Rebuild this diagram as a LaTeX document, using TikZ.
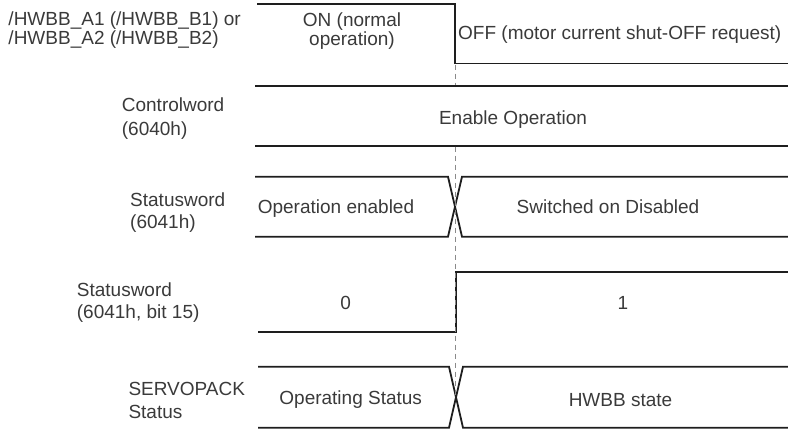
\documentclass[tikz,border=0pt]{standalone}
\usepackage{fontspec}
\setmainfont{Liberation Sans}
\definecolor{wavecol}{HTML}{1E1E1E}
\definecolor{txtcol}{HTML}{3A3A3A}
\definecolor{guidecol}{HTML}{8A8A8A}
\begin{document}
\begin{tikzpicture}[x=1pt,y=-1pt,
  wave/.style={line width=1.8pt, draw=wavecol, line join=miter},
  guide/.style={line width=0.9pt, draw=guidecol, dash pattern=on 5pt off 4pt},
  lbl/.style={inner sep=0pt, text=txtcol, font=\fontsize{19}{23}\selectfont},
]
\useasboundingbox (0,0) rectangle (788,429);

% waveforms
\draw[wave] (257,4.3) -- (455,4.3) -- (455,63.5) -- (788,63.5);
\draw[wave] (255,85.7) -- (788,85.7);
\draw[wave] (255,146) -- (788,146);
\draw[wave] (255,176.7) -- (448,176.7) -- (462,236.7) -- (788,236.7);
\draw[wave] (255,236.7) -- (448,236.7) -- (462,176.7) -- (788,176.7);
\draw[wave] (258,331.7) -- (456,331.7) -- (456,271.7) -- (788,271.7);
\draw[wave] (258,366.7) -- (449,366.7) -- (463,427.7) -- (788,427.7);
\draw[wave] (258,427.7) -- (449,427.7) -- (463,366.7) -- (788,366.7);

% timing guide
\coordinate (g1) at (455.5,64.5);
\coordinate (g2) at (455.5,85);
\coordinate (g3) at (455.5,146.5);
\coordinate (g4) at (455.5,397);
\draw[guide] (g1) -- (g2);
\draw[guide] (g3) -- (g4);

% signal names
\node[lbl, anchor=base west] (hw1) at (8.3,25.5) {/HWBB\_A1 (/HWBB\_B1) or};
\node[lbl, anchor=base west] (hw2) at (8.3,44) {/HWBB\_A2 (/HWBB\_B2)};
\node[lbl, anchor=base west] (cw1) at (121.7,111.7) {Controlword};
\node[lbl, anchor=base west] (cw2) at (121.7,135) {(6040h)};
\node[lbl, anchor=base west] (sw1) at (130,206) {Statusword};
\node[lbl, anchor=base west] (sw2) at (130,228.3) {(6041h)};
\node[lbl, anchor=base west] (sb1) at (76.7,296) {Statusword};
\node[lbl, anchor=base west] (sb2) at (76.7,318) {(6041h, bit 15)};
\node[lbl, anchor=base west] (sp1) at (128.3,395) {SERVOPACK};
\node[lbl, anchor=base west] (sp2) at (128.3,418.3) {Status};

% state texts
\node[lbl, anchor=base] (on1) at (352,26) {ON (normal};
\node[lbl, anchor=base] (on2) at (352,45.5) {operation)};
\node[lbl, anchor=base west] (off) at (458,39.3) {OFF (motor current shut-OFF request)};
\node[lbl, anchor=base] (eo) at (513,124.5) {Enable Operation};
\node[lbl, anchor=base] (oe) at (336,213.3) {Operation enabled};
\node[lbl, anchor=base] (sd) at (608,213) {Switched on Disabled};
\node[lbl, anchor=base] (b0) at (345.7,309.3) {0};
\node[lbl, anchor=base] (b1) at (623,309.3) {1};
\node[lbl, anchor=base] (os) at (350.7,404.3) {Operating Status};
\node[lbl, anchor=base] (hs) at (620.5,406.7) {HWBB state};
\end{tikzpicture}
\end{document}
